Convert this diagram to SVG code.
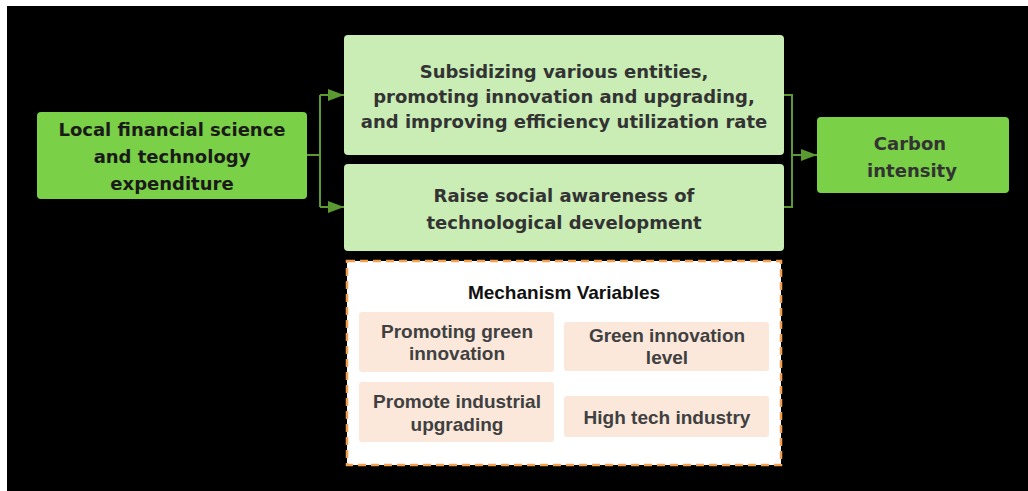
<svg xmlns="http://www.w3.org/2000/svg" width="1028" height="491" viewBox="0 0 1028 491">
<defs>
<marker id="ah2" viewBox="0 0 16 12" refX="16" refY="6" markerWidth="16" markerHeight="12" markerUnits="userSpaceOnUse" orient="auto">
<path d="M0,0 L16,6 L0,12 z" fill="#5b9a32"/>
</marker>
</defs>
<style>
.g1{fill:#7ad046;}
.g2{fill:#c9edb5;}
.pe{fill:#fbe8db;}
.ct{font-family:"DejaVu Sans","Noto Sans",sans-serif;font-weight:bold;font-size:18px;text-anchor:middle;}
.mt{font-family:"Liberation Sans","Noto Sans",sans-serif;font-weight:bold;text-anchor:middle;fill:#404040;font-size:19px;}
.ln{fill:none;stroke:#5b9a32;stroke-width:2;}
</style>
<rect x="0" y="0" width="1028" height="491" fill="#ffffff"/>
<rect x="7" y="6" width="1021" height="485" fill="#000000"/>
<g id="connectors">
<path class="ln" d="M307,155 H320 M320,95 V207"/>
<path class="ln" d="M320,95 H344" marker-end="url(#ah2)"/>
<path class="ln" d="M320,207 H344" marker-end="url(#ah2)"/>
<path class="ln" d="M784,95 H792 V207 H784"/>
<path class="ln" d="M792,155 H817" marker-end="url(#ah2)"/>
</g>
<g id="node-left">
<rect class="g1" x="37" y="112" width="270" height="87" rx="4"/>
<text class="ct" fill="#1a1a1a" x="172" y="136" font-size="18.5">Local financial science</text>
<text class="ct" fill="#1a1a1a" x="172" y="163">and technology</text>
<text class="ct" fill="#1a1a1a" x="172" y="190">expenditure</text>
</g>
<g id="node-subsidize">
<rect class="g2" x="344" y="35" width="440" height="120" rx="4"/>
<text class="ct" fill="#333333" x="564" y="78">Subsidizing various entities,</text>
<text class="ct" fill="#333333" x="564" y="103">promoting innovation and upgrading,</text>
<text class="ct" fill="#333333" x="564" y="128">and improving efficiency utilization rate</text>
</g>
<g id="node-awareness">
<rect class="g2" x="344" y="164" width="440" height="87" rx="4"/>
<text class="ct" fill="#333333" x="564" y="202">Raise social awareness of</text>
<text class="ct" fill="#333333" x="564" y="229">technological development</text>
</g>
<g id="node-carbon">
<rect class="g1" x="817" y="117" width="192" height="76" rx="4"/>
<text class="ct" fill="#333333" x="910" y="150">Carbon</text>
<text class="ct" fill="#333333" x="912" y="177">intensity</text>
</g>
<g id="node-mechanism">
<rect x="347" y="261" width="434" height="204" fill="#ffffff" stroke="#f0a050" stroke-width="2.5" stroke-dasharray="8,5"/>
<text x="564" y="299" font-family="'Liberation Sans','Noto Sans',sans-serif" font-weight="bold" font-size="19" text-anchor="middle" fill="#111111">Mechanism Variables</text>
<rect class="pe" x="359" y="312" width="195" height="60" rx="3"/>
<text class="mt" x="457" y="338">Promoting green</text>
<text class="mt" x="457" y="360">innovation</text>
<rect class="pe" x="564" y="322" width="205" height="49" rx="3"/>
<text class="mt" x="667" y="342">Green innovation</text>
<text class="mt" x="667" y="364">level</text>
<rect class="pe" x="359" y="382" width="195" height="60" rx="3"/>
<text class="mt" x="457" y="408">Promote industrial</text>
<text class="mt" x="457" y="431">upgrading</text>
<rect class="pe" x="564" y="396" width="205" height="41" rx="3"/>
<text class="mt" x="667" y="424">High tech industry</text>
</g>
</svg>
